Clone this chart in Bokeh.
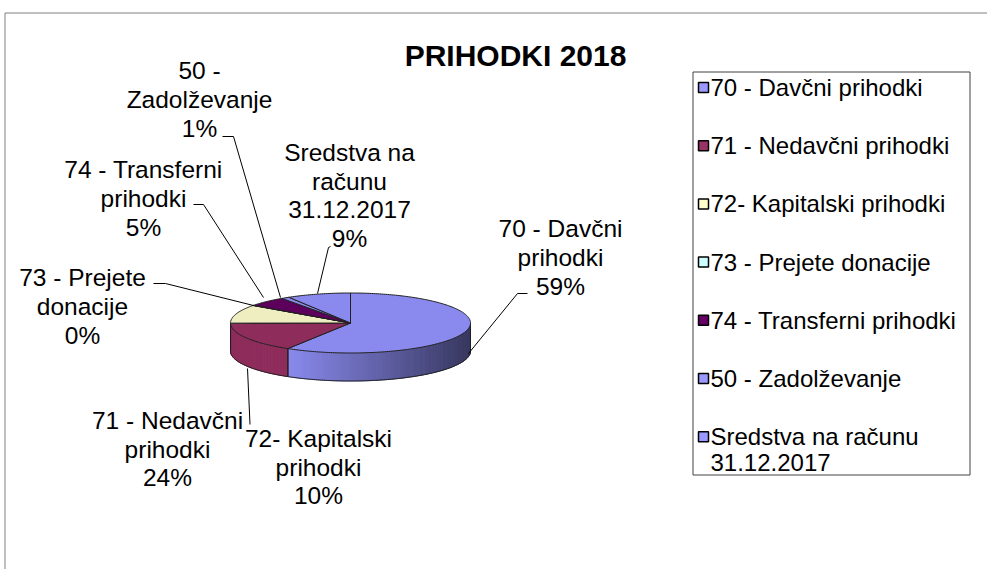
import numpy as np
from bokeh.plotting import figure
from bokeh.models import Range1d
from bokeh.core.properties import value
from bokeh.embed import file_html
from bokeh.resources import INLINE

# ---------------- data ----------------
categories = ["70 - Davčni prihodki", "71 - Nedavčni prihodki", "72- Kapitalski prihodki",
              "73 - Prejete donacije", "74 - Transferni prihodki", "50 - Zadolževanje",
              "Sredstva na računu 31.12.2017"]
values = [58.8, 16.2, 10.0, 0.1, 5.3, 1.1, 8.6]          # slice sizes
pct_labels = ["59%", "24%", "10%", "0%", "5%", "1%", "9%"]   # percentages as printed
label_names = [["70 - Davčni", "prihodki"], ["71 - Nedavčni", "prihodki"],
               ["72- Kapitalski", "prihodki"], ["73 - Prejete", "donacije"],
               ["74 - Transferni", "prihodki"], ["50 -", "Zadolževanje"],
               ["Sredstva na", "računu", "31.12.2017"]]
legend_names = [["70 - Davčni prihodki"], ["71 - Nedavčni prihodki"], ["72- Kapitalski prihodki"],
                ["73 - Prejete donacije"], ["74 - Transferni prihodki"], ["50 - Zadolževanje"],
                ["Sredstva na računu", "31.12.2017"]]
title = "PRIHODKI 2018"

# ---------------- style / layout ----------------
top_colors = ["#8a8aee", "#8e2d5c", "#eeeec0", "#c0eeee", "#5c005c", "#8a8aee", "#8a8aee"]
legend_colors = ["#9999ff", "#993366", "#ffffcc", "#ccffff", "#660066", "#9999ff", "#9999ff"]
FONT = value("Liberation Sans")
CX, CY, RX, RY, DEPTH = 350.0, 322.5, 120.0, 30.0, 28.0
LABEL_POS = [(560, 257), (167, 448.5), (318, 466.5), (82, 306), (143, 198), (199, 99), (349, 195)]
LABEL_LH = 28.8
LEADERS = [[(527, 293), (517, 293), (468, 353)],
           [(247, 368), (249.5, 424)],
           None,
           [(153, 283), (165, 283), (253, 305)],
           [(193, 204), (203, 204), (263, 297)],
           [(222, 136), (233, 136), (280, 297)],
           [(330, 246), (328, 247), (317, 293)]]
LEG_BOX = (692.5, 71.5, 969.5, 474.5)
LEG_X_MARK, LEG_X_TEXT, LEG_Y0, LEG_DY, LEG_LH = 703, 710, 87, 58.2, 25.5

W, H = 987, 569
p = figure(width=W, height=H, output_backend="svg", toolbar_location=None,
           x_range=Range1d(0, W), y_range=Range1d(H, 0),
           min_border=0, outline_line_color=None)
p.axis.visible = False
p.grid.visible = False
p.background_fill_color = "white"
p.border_fill_color = "white"

# chart border (only top and left edges are inside the picture)
p.line(x=[4.5, 4.5, W], y=[H, 12.5, 12.5], line_color="#808080", line_width=1)


def ell(theta_deg, dy=0.0):
    t = np.radians(theta_deg)
    return CX + RX * np.sin(t), CY - RY * np.cos(t) + dy


def hex_rgb(h):
    h = h.lstrip("#")
    return [int(h[i:i + 2], 16) for i in (0, 2, 4)]


cum = np.concatenate([[0.0], np.cumsum(values)]) / float(np.sum(values)) * 360.0
starts, ends = cum[:-1], cum[1:]

# ---- side walls (front half only) ----
wx, wy, wc = [], [], []
edge_x, edge_y = [], []
for i, (a0, a1) in enumerate(zip(starts, ends)):
    lo, hi = max(a0, 90.0), min(a1, 270.0)
    if hi <= lo:
        continue
    th = np.linspace(lo, hi, int(np.ceil(hi - lo)) + 1)
    base = hex_rgb(top_colors[i])
    for t0, t1 in zip(th[:-1], th[1:]):
        x0, y0 = ell(t0)
        x1, y1 = ell(t1)
        wx.append([x0, x1, x1, x0])
        wy.append([y0, y1, y1 + DEPTH, y0 + DEPTH])
        u = ((x0 + x1) / 2 - CX) / RX
        s = min(max((u + 0.52) / 1.52, 0.0), 1.0)
        f = 1.0 - 0.6 * s
        r, g, b = [int(round(c * f)) for c in base]
        wc.append("#%02x%02x%02x" % (r, g, b))
    for t in (lo, hi):
        x, y = ell(t)
        edge_x.append([x, x])
        edge_y.append([y, y + DEPTH])

p.patches(xs=wx, ys=wy, fill_color=wc, line_color=wc, line_width=1)
thb = np.linspace(90, 270, 181)
bx, by = ell(thb, DEPTH)
p.line(x=bx, y=by, line_color="#202020", line_width=1)
p.multi_line(xs=edge_x, ys=edge_y, line_color="#202020", line_width=1)

# ---- top faces ----
txs, tys = [], []
for a0, a1 in zip(starts, ends):
    n = max(2, int(np.ceil(a1 - a0)) + 1)
    th = np.linspace(a0, a1, n)
    x, y = ell(th)
    txs.append([CX] + list(x))
    tys.append([CY] + list(y))
p.patches(xs=txs, ys=tys, fill_color=top_colors, line_color="#202020", line_width=1)

# ---- data labels ----
lx, ly, lt = [], [], []
for i, names in enumerate(label_names):
    lines = names + [pct_labels[i]]
    n = len(lines)
    cx, cy = LABEL_POS[i]
    for j, s in enumerate(lines):
        lx.append(cx)
        ly.append(cy + (j - (n - 1) / 2) * LABEL_LH)
        lt.append(s)
p.text(x=lx, y=ly, text=lt, text_font=FONT, text_font_size="24.5px",
       text_align="center", text_baseline="middle", text_color="black")

lead_x = [[q[0] for q in L] for L in LEADERS if L]
lead_y = [[q[1] for q in L] for L in LEADERS if L]
p.multi_line(xs=lead_x, ys=lead_y, line_color="black", line_width=1)

# ---- title ----
p.text(x=[515], y=[55], text=[title], text_font=FONT, text_font_size="30px",
       text_font_style="bold", text_align="center", text_baseline="middle", text_color="black")

# ---- legend ----
x0, y0, x1, y1 = LEG_BOX
p.line(x=[x0, x1, x1, x0, x0], y=[y0, y0, y1, y1, y0], line_color="#404040", line_width=1)
mx, my, gx, gy, gt = [], [], [], [], []
for i, names in enumerate(legend_names):
    yc = LEG_Y0 + i * LEG_DY
    mx.append(LEG_X_MARK)
    my.append(yc)
    for j, s in enumerate(names):
        gx.append(LEG_X_TEXT)
        gy.append(yc + j * LEG_LH)
        gt.append(s)
p.scatter(x=mx, y=my, marker="square", size=10, fill_color=legend_colors,
          line_color="black", line_width=1.5)
p.text(x=gx, y=gy, text=gt, text_font=FONT, text_font_size="24px",
       text_align="left", text_baseline="middle", text_color="black")

open("out.html", "w").write(file_html(p, INLINE))
